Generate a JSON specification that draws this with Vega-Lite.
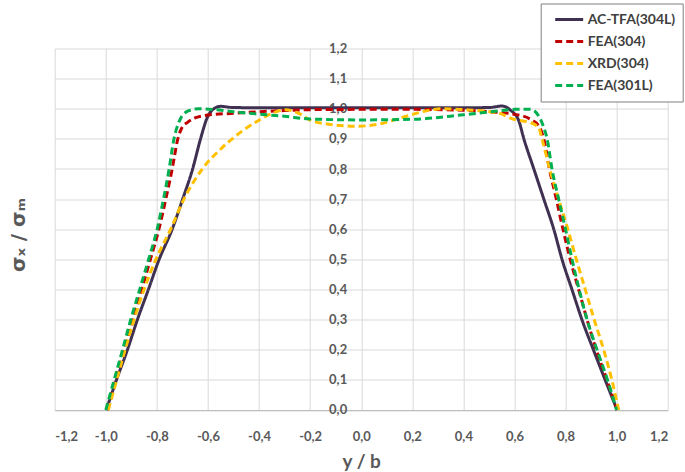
{
  "$schema": "https://vega.github.io/schema/vega-lite/v6.json",
  "width": 613,
  "height": 361.5,
  "autosize": {"type": "none"},
  "padding": {"left": 54.7, "top": 48.5, "right": 17, "bottom": 62},
  "background": "white",
  "config": {"view": {"stroke": null}, "font": "Lato"},
  "data": {"values": [
    {"series": "AC-TFA(304L)", "x": -0.998, "y": 0},
    {"series": "AC-TFA(304L)", "x": -0.959, "y": 0.098},
    {"series": "AC-TFA(304L)", "x": -0.916, "y": 0.198},
    {"series": "AC-TFA(304L)", "x": -0.877, "y": 0.298},
    {"series": "AC-TFA(304L)", "x": -0.834, "y": 0.398},
    {"series": "AC-TFA(304L)", "x": -0.792, "y": 0.498},
    {"series": "AC-TFA(304L)", "x": -0.74, "y": 0.6},
    {"series": "AC-TFA(304L)", "x": -0.699, "y": 0.7},
    {"series": "AC-TFA(304L)", "x": -0.66, "y": 0.8},
    {"series": "AC-TFA(304L)", "x": -0.629, "y": 0.9},
    {"series": "AC-TFA(304L)", "x": -0.603, "y": 0.97},
    {"series": "AC-TFA(304L)", "x": -0.577, "y": 1.0},
    {"series": "AC-TFA(304L)", "x": -0.551, "y": 1.008},
    {"series": "AC-TFA(304L)", "x": -0.5, "y": 1.004},
    {"series": "AC-TFA(304L)", "x": -0.3, "y": 1.003},
    {"series": "AC-TFA(304L)", "x": 0.0, "y": 1.003},
    {"series": "AC-TFA(304L)", "x": 0.3, "y": 1.003},
    {"series": "AC-TFA(304L)", "x": 0.5, "y": 1.004},
    {"series": "AC-TFA(304L)", "x": 0.552, "y": 1.009},
    {"series": "AC-TFA(304L)", "x": 0.585, "y": 0.995},
    {"series": "AC-TFA(304L)", "x": 0.617, "y": 0.96},
    {"series": "AC-TFA(304L)", "x": 0.637, "y": 0.9},
    {"series": "AC-TFA(304L)", "x": 0.676, "y": 0.8},
    {"series": "AC-TFA(304L)", "x": 0.715, "y": 0.7},
    {"series": "AC-TFA(304L)", "x": 0.754, "y": 0.6},
    {"series": "AC-TFA(304L)", "x": 0.787, "y": 0.498},
    {"series": "AC-TFA(304L)", "x": 0.826, "y": 0.398},
    {"series": "AC-TFA(304L)", "x": 0.865, "y": 0.298},
    {"series": "AC-TFA(304L)", "x": 0.91, "y": 0.198},
    {"series": "AC-TFA(304L)", "x": 0.956, "y": 0.098},
    {"series": "AC-TFA(304L)", "x": 1.002, "y": 0},

    {"series": "FEA(304)", "x": -0.994, "y": 0},
    {"series": "FEA(304)", "x": -0.963, "y": 0.098},
    {"series": "FEA(304)", "x": -0.929, "y": 0.198},
    {"series": "FEA(304)", "x": -0.895, "y": 0.298},
    {"series": "FEA(304)", "x": -0.86, "y": 0.398},
    {"series": "FEA(304)", "x": -0.826, "y": 0.498},
    {"series": "FEA(304)", "x": -0.792, "y": 0.6},
    {"series": "FEA(304)", "x": -0.765, "y": 0.7},
    {"series": "FEA(304)", "x": -0.74, "y": 0.8},
    {"series": "FEA(304)", "x": -0.718, "y": 0.9},
    {"series": "FEA(304)", "x": -0.702, "y": 0.937},
    {"series": "FEA(304)", "x": -0.68, "y": 0.955},
    {"series": "FEA(304)", "x": -0.655, "y": 0.968},
    {"series": "FEA(304)", "x": -0.6, "y": 0.979},
    {"series": "FEA(304)", "x": -0.5, "y": 0.985},
    {"series": "FEA(304)", "x": -0.4, "y": 0.99},
    {"series": "FEA(304)", "x": -0.3, "y": 0.994},
    {"series": "FEA(304)", "x": -0.2, "y": 0.997},
    {"series": "FEA(304)", "x": 0.0, "y": 0.998},
    {"series": "FEA(304)", "x": 0.2, "y": 0.998},
    {"series": "FEA(304)", "x": 0.4, "y": 0.995},
    {"series": "FEA(304)", "x": 0.5, "y": 0.99},
    {"series": "FEA(304)", "x": 0.597, "y": 0.982},
    {"series": "FEA(304)", "x": 0.663, "y": 0.965},
    {"series": "FEA(304)", "x": 0.695, "y": 0.943},
    {"series": "FEA(304)", "x": 0.715, "y": 0.9},
    {"series": "FEA(304)", "x": 0.737, "y": 0.8},
    {"series": "FEA(304)", "x": 0.764, "y": 0.7},
    {"series": "FEA(304)", "x": 0.79, "y": 0.6},
    {"series": "FEA(304)", "x": 0.819, "y": 0.498},
    {"series": "FEA(304)", "x": 0.852, "y": 0.398},
    {"series": "FEA(304)", "x": 0.885, "y": 0.298},
    {"series": "FEA(304)", "x": 0.921, "y": 0.198},
    {"series": "FEA(304)", "x": 0.963, "y": 0.098},
    {"series": "FEA(304)", "x": 1.002, "y": 0},

    {"series": "XRD(304)", "x": -0.99, "y": 0},
    {"series": "XRD(304)", "x": -0.958, "y": 0.098},
    {"series": "XRD(304)", "x": -0.925, "y": 0.198},
    {"series": "XRD(304)", "x": -0.89, "y": 0.298},
    {"series": "XRD(304)", "x": -0.851, "y": 0.398},
    {"series": "XRD(304)", "x": -0.805, "y": 0.498},
    {"series": "XRD(304)", "x": -0.746, "y": 0.6},
    {"series": "XRD(304)", "x": -0.694, "y": 0.7},
    {"series": "XRD(304)", "x": -0.622, "y": 0.8},
    {"series": "XRD(304)", "x": -0.544, "y": 0.871},
    {"series": "XRD(304)", "x": -0.466, "y": 0.926},
    {"series": "XRD(304)", "x": -0.4, "y": 0.962},
    {"series": "XRD(304)", "x": -0.34, "y": 0.988},
    {"series": "XRD(304)", "x": -0.297, "y": 0.997},
    {"series": "XRD(304)", "x": -0.238, "y": 0.982},
    {"series": "XRD(304)", "x": -0.2, "y": 0.962},
    {"series": "XRD(304)", "x": -0.12, "y": 0.948},
    {"series": "XRD(304)", "x": -0.016, "y": 0.942},
    {"series": "XRD(304)", "x": 0.075, "y": 0.95},
    {"series": "XRD(304)", "x": 0.18, "y": 0.976},
    {"series": "XRD(304)", "x": 0.271, "y": 0.996},
    {"series": "XRD(304)", "x": 0.31, "y": 1.0},
    {"series": "XRD(304)", "x": 0.4, "y": 0.997},
    {"series": "XRD(304)", "x": 0.532, "y": 0.987},
    {"series": "XRD(304)", "x": 0.597, "y": 0.965},
    {"series": "XRD(304)", "x": 0.663, "y": 0.954},
    {"series": "XRD(304)", "x": 0.695, "y": 0.937},
    {"series": "XRD(304)", "x": 0.708, "y": 0.9},
    {"series": "XRD(304)", "x": 0.738, "y": 0.8},
    {"series": "XRD(304)", "x": 0.773, "y": 0.7},
    {"series": "XRD(304)", "x": 0.809, "y": 0.6},
    {"series": "XRD(304)", "x": 0.843, "y": 0.498},
    {"series": "XRD(304)", "x": 0.878, "y": 0.398},
    {"series": "XRD(304)", "x": 0.913, "y": 0.298},
    {"series": "XRD(304)", "x": 0.95, "y": 0.198},
    {"series": "XRD(304)", "x": 0.982, "y": 0.098},
    {"series": "XRD(304)", "x": 1.008, "y": 0},

    {"series": "FEA(301L)", "x": -1.0, "y": 0},
    {"series": "FEA(301L)", "x": -0.968, "y": 0.098},
    {"series": "FEA(301L)", "x": -0.935, "y": 0.198},
    {"series": "FEA(301L)", "x": -0.903, "y": 0.298},
    {"series": "FEA(301L)", "x": -0.868, "y": 0.398},
    {"series": "FEA(301L)", "x": -0.833, "y": 0.498},
    {"series": "FEA(301L)", "x": -0.799, "y": 0.6},
    {"series": "FEA(301L)", "x": -0.774, "y": 0.7},
    {"series": "FEA(301L)", "x": -0.752, "y": 0.8},
    {"series": "FEA(301L)", "x": -0.733, "y": 0.9},
    {"series": "FEA(301L)", "x": -0.712, "y": 0.959},
    {"series": "FEA(301L)", "x": -0.677, "y": 0.993},
    {"series": "FEA(301L)", "x": -0.636, "y": 1.0},
    {"series": "FEA(301L)", "x": -0.57, "y": 0.997},
    {"series": "FEA(301L)", "x": -0.5, "y": 0.99},
    {"series": "FEA(301L)", "x": -0.4, "y": 0.982},
    {"series": "FEA(301L)", "x": -0.3, "y": 0.975},
    {"series": "FEA(301L)", "x": -0.2, "y": 0.966},
    {"series": "FEA(301L)", "x": 0.0, "y": 0.963},
    {"series": "FEA(301L)", "x": 0.2, "y": 0.965},
    {"series": "FEA(301L)", "x": 0.4, "y": 0.98},
    {"series": "FEA(301L)", "x": 0.54, "y": 0.993},
    {"series": "FEA(301L)", "x": 0.6, "y": 0.998},
    {"series": "FEA(301L)", "x": 0.663, "y": 0.998},
    {"series": "FEA(301L)", "x": 0.695, "y": 0.976},
    {"series": "FEA(301L)", "x": 0.715, "y": 0.937},
    {"series": "FEA(301L)", "x": 0.728, "y": 0.9},
    {"series": "FEA(301L)", "x": 0.747, "y": 0.8},
    {"series": "FEA(301L)", "x": 0.773, "y": 0.7},
    {"series": "FEA(301L)", "x": 0.8, "y": 0.6},
    {"series": "FEA(301L)", "x": 0.826, "y": 0.498},
    {"series": "FEA(301L)", "x": 0.854, "y": 0.398},
    {"series": "FEA(301L)", "x": 0.885, "y": 0.298},
    {"series": "FEA(301L)", "x": 0.924, "y": 0.198},
    {"series": "FEA(301L)", "x": 0.965, "y": 0.098},
    {"series": "FEA(301L)", "x": 1.0, "y": 0}
  ]},
  "mark": {"type": "line", "interpolate": "monotone", "strokeWidth": 3},
  "encoding": {
    "x": {
      "field": "x", "type": "quantitative",
      "scale": {"domain": [-1.2, 1.2], "nice": false, "zero": false},
      "axis": {
        "title": "y / b",
        "values": [-1.2, -1.0, -0.8, -0.6, -0.4, -0.2, 0, 0.2, 0.4, 0.6, 0.8, 1.0, 1.2],
        "labelExpr": "replace(replace(format(datum.value, '.1f'), '.', ','), '\u2212', '-')",
        "grid": true, "gridColor": "#d9d9d9", "gridWidth": 1,
        "domain": true, "domainColor": "#bfbfbf", "domainWidth": 1,
        "ticks": false, "labelPadding": 21,
        "labelOverlap": false, "labelBound": false,
        "labelFont": "Lato", "labelFontSize": 13, "labelFontWeight": "bold", "labelColor": "#595959",
        "titleFont": "Lato", "titleFontSize": 19, "titleFontWeight": "bold", "titleColor": "#595959",
        "titlePadding": 9
      }
    },
    "y": {
      "field": "y", "type": "quantitative",
      "scale": {"domain": [0, 1.2], "nice": false},
      "axis": {
        "title": "σₓ / σₘ",
        "values": [0, 0.1, 0.2, 0.3, 0.4, 0.5, 0.6, 0.7, 0.8, 0.9, 1.0, 1.1, 1.2],
        "labelExpr": "replace(format(datum.value, '.1f'), '.', ',')",
        "offset": -306,
        "grid": true, "gridColor": "#d9d9d9", "gridWidth": 1,
        "domain": false, "ticks": false, "labelPadding": 14,
        "labelOverlap": false, "labelBound": false,
        "labelFont": "Lato", "labelFontSize": 13, "labelFontWeight": "bold", "labelColor": "#595959",
        "titleFont": "DejaVu Sans", "titleFontSize": 20, "titleFontWeight": "bold", "titleColor": "#595959",
        "titleX": -342, "titleY": 186, "titleAngle": -90, "titleAlign": "center", "titleBaseline": "middle"
      }
    },
    "color": {
      "field": "series", "type": "nominal",
      "scale": {
        "domain": ["AC-TFA(304L)", "FEA(304)", "XRD(304)", "FEA(301L)"],
        "range": ["#403152", "#C00000", "#FFC000", "#00B050"]
      },
      "legend": {
        "orient": "none", "legendX": 486, "legendY": -45, "title": null,
        "strokeColor": "#808080", "fillColor": "white", "padding": 7,
        "symbolType": "stroke", "symbolSize": 784, "symbolStrokeWidth": 3,
        "clipHeight": 18, "rowPadding": 4,
        "labelFont": "Lato", "labelFontSize": 14, "labelFontWeight": "bold", "labelColor": "#404040",
        "labelOffset": 3, "symbolOffset": 6
      }
    },
    "strokeDash": {
      "field": "series", "type": "nominal",
      "scale": {
        "domain": ["AC-TFA(304L)", "FEA(304)", "XRD(304)", "FEA(301L)"],
        "range": [[1, 0], [7, 4], [7, 4], [7, 4]]
      },
      "legend": {
        "orient": "none", "legendX": 486, "legendY": -45, "title": null,
        "strokeColor": "#808080", "fillColor": "white", "padding": 7,
        "symbolType": "stroke", "symbolSize": 784, "symbolStrokeWidth": 3,
        "clipHeight": 18, "rowPadding": 4,
        "labelFont": "Lato", "labelFontSize": 14, "labelFontWeight": "bold", "labelColor": "#404040",
        "labelOffset": 3, "symbolOffset": 6
      }
    }
  }
}
